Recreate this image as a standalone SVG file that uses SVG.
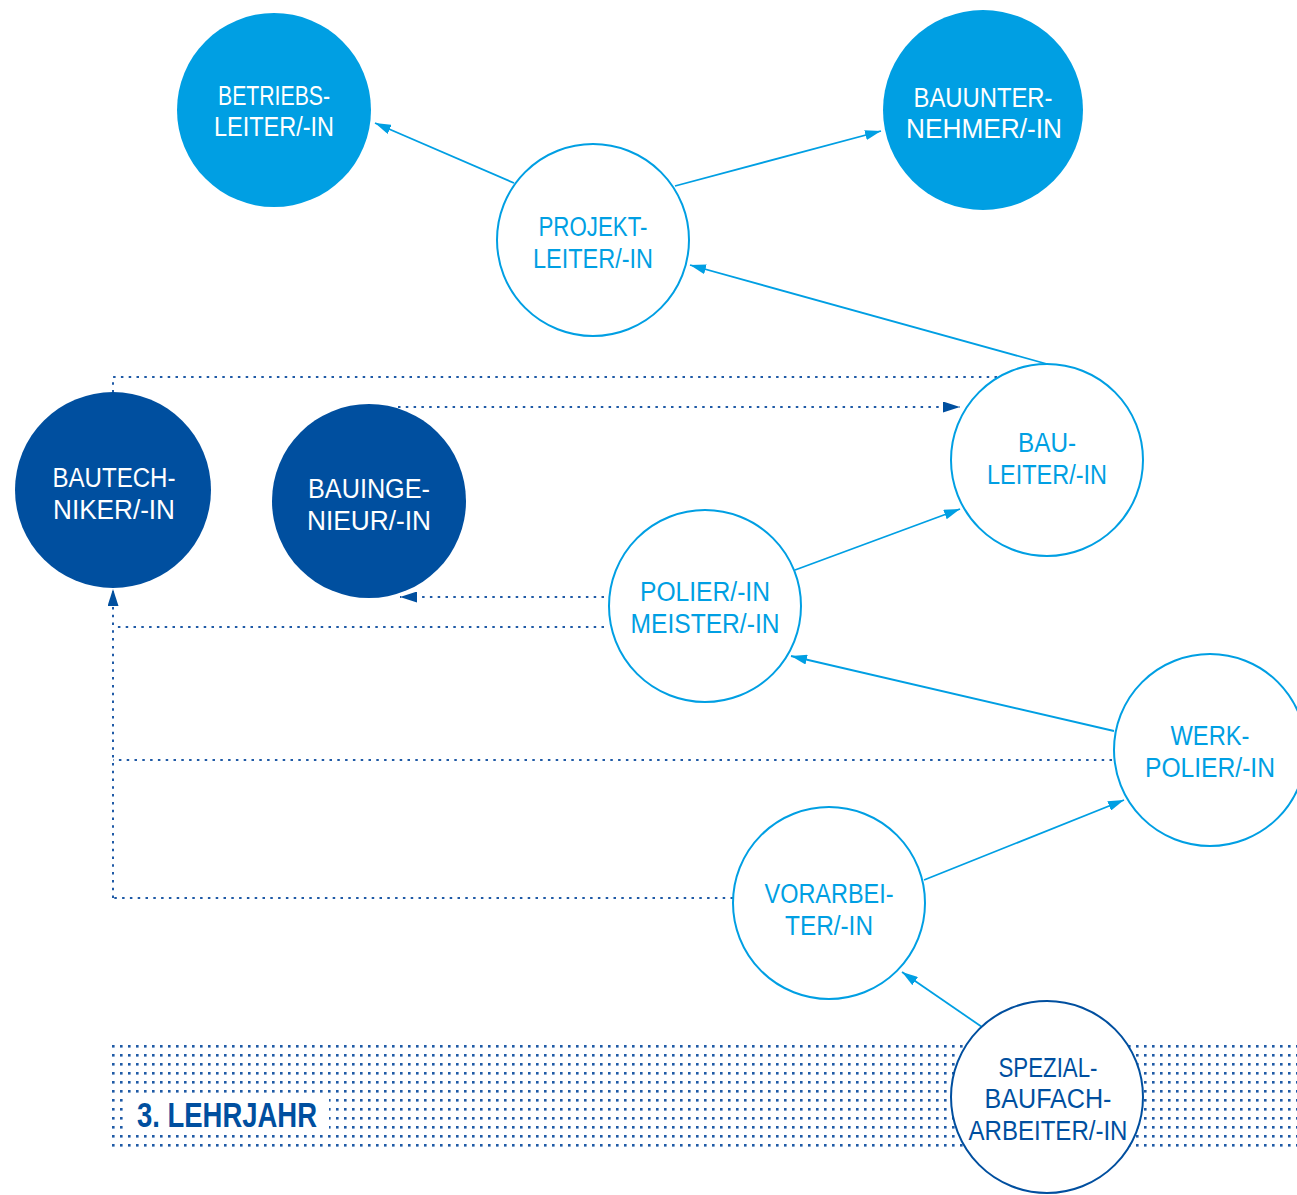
<svg xmlns="http://www.w3.org/2000/svg" width="1297" height="1195" viewBox="0 0 1297 1195">
<style>
.lb{fill:#009fe3}
.db{fill:#004f9f}
.ol{fill:#fff;stroke:#009fe3;stroke-width:2}
.old{fill:#fff;stroke:#004f9f;stroke-width:2}
text{font-family:"Liberation Sans",Arial,sans-serif;font-size:27px;text-anchor:middle}
.tw{fill:#fff}
.tl{fill:#009fe3}
.td{fill:#004f9f}
.sol{stroke:#009fe3;stroke-width:1.8;fill:none;marker-end:url(#al)}
.dot{stroke:#1f5aa6;stroke-width:2;fill:none;stroke-dasharray:2.5 5.3}
.dota{stroke:#1f5aa6;stroke-width:2;fill:none;stroke-dasharray:2.5 5.3;marker-end:url(#ad)}
</style>
<defs>
<marker id="al" markerUnits="userSpaceOnUse" markerWidth="16" markerHeight="10" refX="16" refY="5" orient="auto"><path d="M0,0 L16,5 L0,10 z" fill="#009fe3"/></marker>
<marker id="ad" markerUnits="userSpaceOnUse" markerWidth="17" markerHeight="11" refX="17" refY="5.5" orient="auto"><path d="M0,0 L17,5.5 L0,11 z" fill="#004f9f"/></marker>
<pattern id="dots" patternUnits="userSpaceOnUse" x="112" y="1045" width="8" height="9"><rect x="0" y="0" width="2.6" height="2.6" fill="#1f5aa6"/></pattern>
</defs>
<g id="band">
<rect x="112" y="1045" width="1185" height="104" fill="url(#dots)"/>
<rect x="125" y="1095" width="204" height="39" fill="#fff"/>
<text x="227" y="1127" class="td" style="font-weight:bold;font-size:35px" textLength="180" lengthAdjust="spacingAndGlyphs">3. LEHRJAHR</text>
</g>
<g id="connectors">
<path class="sol" d="M514,183 L375,123"/>
<path class="sol" d="M675,186 L881,131"/>
<path class="sol" d="M1047,364 L690,265"/>
<path class="sol" d="M795,570 L960,509"/>
<path class="sol" d="M1114,731 L791,656"/>
<path class="sol" d="M924,880 L1124,800"/>
<path class="sol" d="M982,1027 L902,972"/>
<path class="dot" d="M997,377 H113 V392"/>
<path class="dota" d="M398,407 H960"/>
<path class="dota" d="M604,597 H400"/>
<path class="dot" d="M604,627 H113"/>
<path class="dota" d="M113,898 V589"/>
<path class="dot" d="M1112,760 H113"/>
<path class="dot" d="M733,898 H113"/>
</g>
<g id="betriebsleiter">
<circle cx="274" cy="110" r="97" class="lb"/>
<text x="274" y="105" class="tw" textLength="112" lengthAdjust="spacingAndGlyphs">BETRIEBS-</text>
<text x="274" y="136" class="tw" textLength="120" lengthAdjust="spacingAndGlyphs">LEITER/-IN</text>
</g>
<g id="bauunternehmer">
<circle cx="983" cy="110" r="100" class="lb"/>
<text x="983" y="107" class="tw" textLength="139" lengthAdjust="spacingAndGlyphs">BAUUNTER-</text>
<text x="984" y="138" class="tw" textLength="156" lengthAdjust="spacingAndGlyphs">NEHMER/-IN</text>
</g>
<g id="projektleiter">
<circle cx="593" cy="240" r="96" class="ol"/>
<text x="593" y="236" class="tl" textLength="109" lengthAdjust="spacingAndGlyphs">PROJEKT-</text>
<text x="593" y="268" class="tl" textLength="120" lengthAdjust="spacingAndGlyphs">LEITER/-IN</text>
</g>
<g id="bauleiter">
<circle cx="1047" cy="460" r="96" class="ol"/>
<text x="1047" y="452" class="tl" textLength="58" lengthAdjust="spacingAndGlyphs">BAU-</text>
<text x="1047" y="484" class="tl" textLength="120" lengthAdjust="spacingAndGlyphs">LEITER/-IN</text>
</g>
<g id="bautechniker">
<circle cx="113" cy="490" r="98" class="db"/>
<text x="114" y="487" class="tw" textLength="123" lengthAdjust="spacingAndGlyphs">BAUTECH-</text>
<text x="114" y="519" class="tw" textLength="122" lengthAdjust="spacingAndGlyphs">NIKER/-IN</text>
</g>
<g id="bauingenieur">
<circle cx="369" cy="501" r="97" class="db"/>
<text x="369" y="498" class="tw" textLength="122" lengthAdjust="spacingAndGlyphs">BAUINGE-</text>
<text x="369" y="530" class="tw" textLength="124" lengthAdjust="spacingAndGlyphs">NIEUR/-IN</text>
</g>
<g id="polier">
<circle cx="705" cy="606" r="96" class="ol"/>
<text x="705" y="601" class="tl" textLength="130" lengthAdjust="spacingAndGlyphs">POLIER/-IN</text>
<text x="705" y="633" class="tl" textLength="149" lengthAdjust="spacingAndGlyphs">MEISTER/-IN</text>
</g>
<g id="werkpolier">
<circle cx="1210" cy="750" r="96" class="ol"/>
<text x="1210" y="745" class="tl" textLength="79" lengthAdjust="spacingAndGlyphs">WERK-</text>
<text x="1210" y="777" class="tl" textLength="130" lengthAdjust="spacingAndGlyphs">POLIER/-IN</text>
</g>
<g id="vorarbeiter">
<circle cx="829" cy="903" r="96" class="ol"/>
<text x="829" y="903" class="tl" textLength="129" lengthAdjust="spacingAndGlyphs">VORARBEI-</text>
<text x="829" y="935" class="tl" textLength="88" lengthAdjust="spacingAndGlyphs">TER/-IN</text>
</g>
<g id="spezialbaufacharbeiter">
<circle cx="1047" cy="1097" r="96" class="old"/>
<text x="1048" y="1077" class="td" textLength="99" lengthAdjust="spacingAndGlyphs">SPEZIAL-</text>
<text x="1048" y="1108" class="td" textLength="127" lengthAdjust="spacingAndGlyphs">BAUFACH-</text>
<text x="1048" y="1140" class="td" textLength="159" lengthAdjust="spacingAndGlyphs">ARBEITER/-IN</text>
</g>
</svg>
